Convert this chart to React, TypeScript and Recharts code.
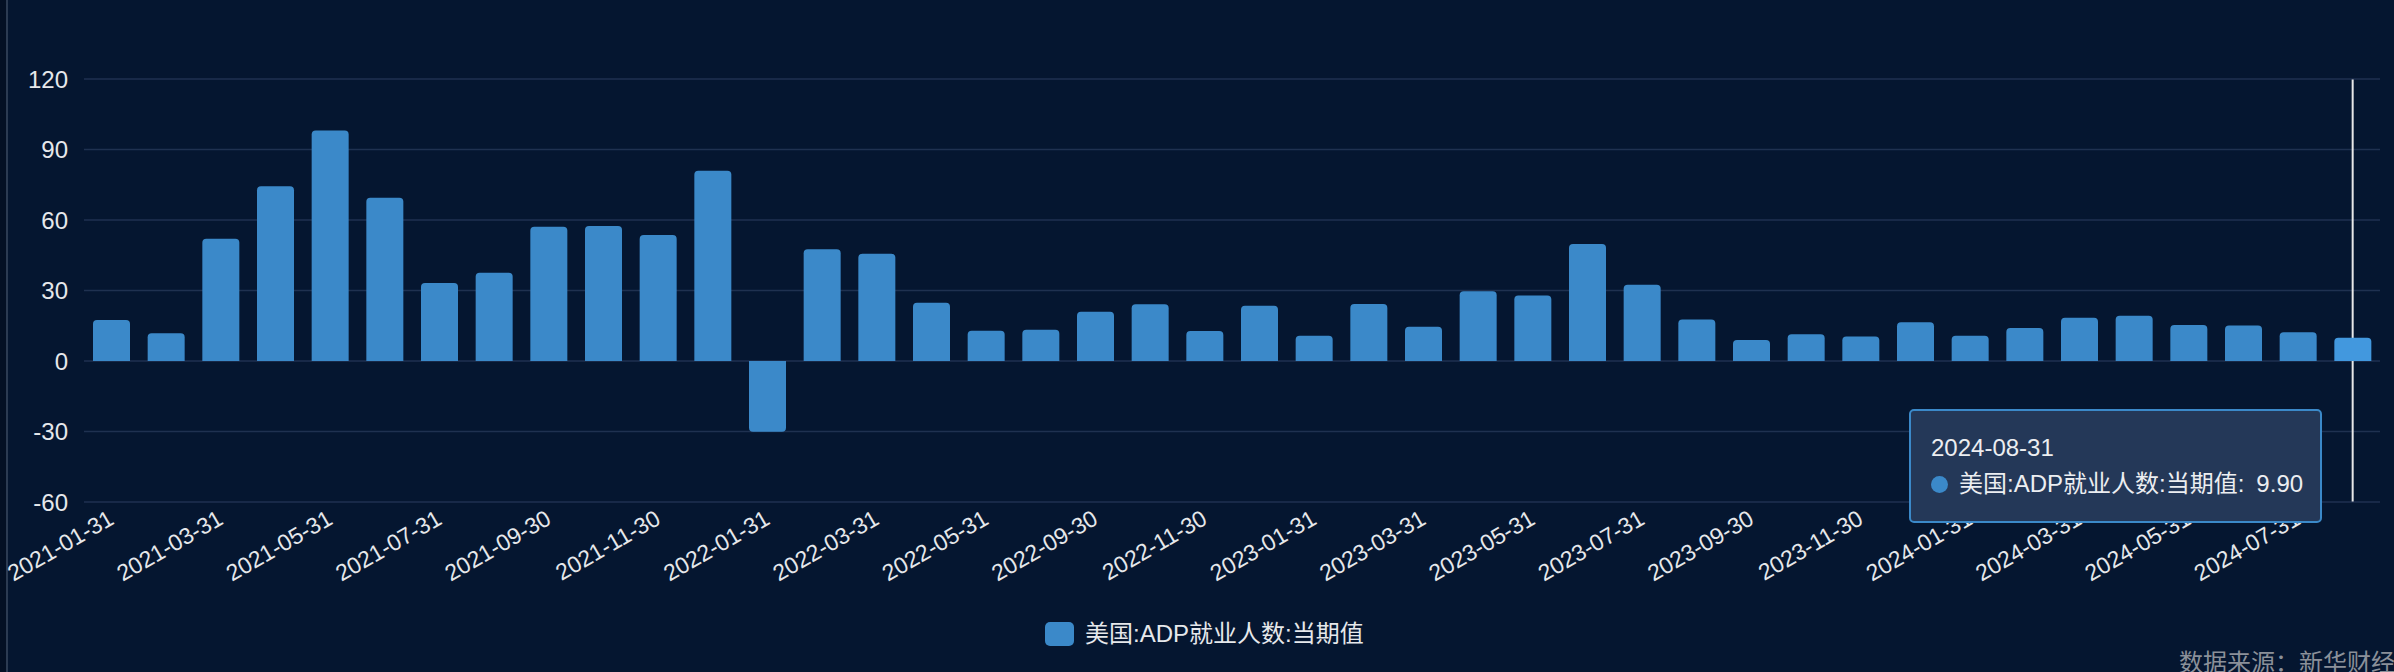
import React from 'react';
import { BarChart, Bar, XAxis, YAxis, CartesianGrid, Tooltip } from 'recharts';

const categories = [
  '2021-01-31', '2021-02-28', '2021-03-31', '2021-04-30', '2021-05-31', '2021-06-30',
  '2021-07-31', '2021-08-31', '2021-09-30', '2021-10-31', '2021-11-30', '2021-12-31',
  '2022-01-31', '2022-02-28', '2022-03-31', '2022-04-30', '2022-05-31', '2022-08-31',
  '2022-09-30', '2022-10-31', '2022-11-30', '2022-12-31',
  '2023-01-31', '2023-02-28', '2023-03-31', '2023-04-30', '2023-05-31', '2023-06-30',
  '2023-07-31', '2023-08-31', '2023-09-30', '2023-10-31', '2023-11-30', '2023-12-31',
  '2024-01-31', '2024-02-29', '2024-03-31', '2024-04-30', '2024-05-31', '2024-06-30',
  '2024-07-31', '2024-08-31',
];

const adpValues = [
  17.5, 11.8, 52.0, 74.4, 98.1, 69.5, 33.2, 37.6, 57.1, 57.4, 53.6, 81.0,
  -30.1, 47.6, 45.6, 24.8, 12.9, 13.3, 21.0, 24.1, 12.8, 23.5,
  10.7, 24.3, 14.6, 29.7, 27.9, 49.8, 32.5, 17.7, 8.9, 11.4, 10.4, 16.5,
  10.7, 14.0, 18.4, 19.3, 15.3, 15.1, 12.2, 9.9,
];

const yTicks = [-60, -30, 0, 30, 60, 90, 120];
const seriesName = '美国:ADP就业人数:当期值';
const sourceText = '数据来源：新华财经';

const data = categories.map((date, i) => ({ date, value: adpValues[i] }));

const FONT = '"Liberation Sans", "Noto Sans CJK SC", sans-serif';
const TEXT = '#e6e8eb';
const BAR = '#3b89c9';
const BG = '#051630';

function XTick(props: any) {
  const { x, y, payload } = props;
  const bx = x + 4;
  const by = y + 21;
  return (
    <text
      x={bx}
      y={by}
      textAnchor="end"
      fill={TEXT}
      fontSize={23}
      fontFamily={FONT}
      transform={`rotate(-30, ${bx}, ${by})`}
    >
      {payload.value}
    </text>
  );
}

function LineCursor(props: any) {
  const { x, y, width, height } = props;
  if (x == null || width == null) return null;
  const cx = x + width / 2;
  return <line x1={cx} x2={cx} y1={y} y2={y + height} stroke="#e8e8e8" strokeWidth={2} />;
}

function TipContent(props: any) {
  const { active, payload, label } = props;
  if (!active || !payload || !payload.length) return null;
  const v = Number(payload[0].value);
  return (
    <div
      style={{
        boxSizing: 'border-box',
        width: 413,
        height: 114,
        background: '#243858',
        border: `2px solid ${BAR}`,
        borderRadius: 5,
        padding: '19px 20px 0 20px',
        color: '#eceef1',
        fontSize: 24,
        fontFamily: FONT,
        whiteSpace: 'nowrap',
      }}
    >
      <div style={{ height: 36, lineHeight: '36px' }}>{label}</div>
      <div style={{ height: 36, lineHeight: '36px', display: 'flex', alignItems: 'center' }}>
        <span
          style={{
            width: 17,
            height: 17,
            borderRadius: '50%',
            background: BAR,
            marginRight: 11,
            flex: 'none',
            display: 'inline-block',
          }}
        />
        <span>{payload[0].name}:</span>
        <span style={{ marginLeft: 12 }}>{v.toFixed(2)}</span>
      </div>
    </div>
  );
}

export default function App() {
  return (
    <div
      style={{
        position: 'absolute',
        left: 0,
        top: 0,
        width: 2394,
        height: 672,
        background: BG,
        overflow: 'hidden',
        fontFamily: FONT,
      }}
    >
      <div style={{ position: 'absolute', left: 0, top: 0, width: 6, height: 672, background: '#041024' }} />
      <div style={{ position: 'absolute', left: 6, top: 0, width: 1.5, height: 672, background: '#2c3b52' }} />
      <BarChart
        width={2394}
        height={672}
        data={data}
        margin={{ top: 79, right: 14, left: 0, bottom: 0 }}
      >
        <CartesianGrid vertical={false} stroke="#1f3150" strokeWidth={1.5} />
        <XAxis
          dataKey="date"
          interval={1}
          tickLine={false}
          axisLine={false}
          tickSize={0}
          tickMargin={0}
          height={170}
          tick={<XTick />}
        />
        <YAxis
          width={84}
          domain={[-60, 120]}
          ticks={yTicks}
          interval={0}
          axisLine={false}
          tickLine={false}
          tickSize={0}
          tickMargin={16}
          tick={{ fill: TEXT, fontSize: 24, fontFamily: FONT }}
        />
        <Tooltip
          defaultIndex={41}
          position={{ x: 1909, y: 409 }}
          content={<TipContent />}
          cursor={<LineCursor />}
          isAnimationActive={false}
          wrapperStyle={{ outline: 'none' }}
        />
        <Bar
          dataKey="value"
          name={seriesName}
          fill={BAR}
          barSize={37}
          radius={[4, 4, 0, 0]}
          isAnimationActive={false}
          activeBar={{ fill: '#4298de' }}
        />
      </BarChart>
      <div
        style={{
          position: 'absolute',
          left: 1045,
          top: 622,
          display: 'flex',
          alignItems: 'center',
          height: 24,
        }}
      >
        <span
          style={{
            width: 29,
            height: 24,
            borderRadius: 5,
            background: BAR,
            display: 'inline-block',
            marginRight: 11,
          }}
        />
        <span style={{ color: TEXT, fontSize: 24, whiteSpace: 'nowrap', lineHeight: '24px' }}>{seriesName}</span>
      </div>
      <div
        style={{
          position: 'absolute',
          left: 2179,
          top: 648,
          color: '#8b9099',
          fontSize: 24,
          whiteSpace: 'nowrap',
          lineHeight: '30px',
        }}
      >
        {sourceText}
      </div>
    </div>
  );
}
